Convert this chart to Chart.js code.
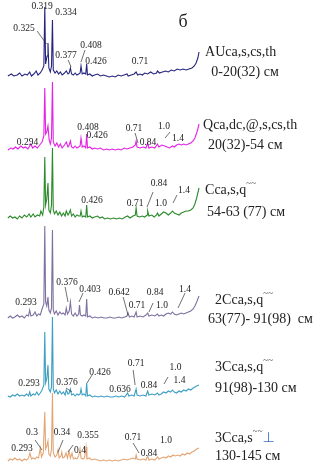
<!DOCTYPE html>
<html>
<head>
<meta charset="utf-8">
<script src="https://cdn.jsdelivr.net/npm/chart.js@4"></script>
<style>
  html, body { margin: 0; padding: 0; background: #fff; }
  #wrap { width: 325px; height: 471px; position: relative; }
</style>
</head>
<body>
<div id="wrap"><canvas id="xrdChart"></canvas></div>
<script>
/* ============================================================
   Stacked X-ray diffractograms, six soil horizons
   x = 2 theta (deg, reversed), y = intensity + stacking offset
   ============================================================ */

// horizons, top to bottom
const horizons = ["AU", "Q", "C", "2C", "3C", "3C-bottom"];
const offsets = [395, 321, 252, 153, 74, 10];
const lineColors = ['#25257f', '#e421e4', '#2b8a2b', '#7d719f', '#3d9fc2', '#e3a574'];

// [2theta, intensity]
const traceAU = [[34.2,0],[33.6,2],[33.2,0],[32.6,1],[32.2,3],[31.8,0],[31.3,2],[30.9,1],[30.5,4],[30.2,0],[29.8,2],[29.4,5],[29.1,1],[28.7,3],[28.4,6],[28.1,10],[27.94,69],[27.8,12],[27.55,20],[27.4,33],[27.25,8],[27.0,4],[26.8,10],[26.64,56],[26.5,6],[26.2,3],[25.9,5],[25.6,2],[25.3,4],[25.0,1],[24.6,3],[24.3,5],[24.0,2],[23.8,3],[23.6,8],[23.4,2],[23.1,1],[22.8,3],[22.5,1],[22.2,2],[21.95,3],[21.8,10],[21.6,2],[21.3,3],[21.0,2],[20.84,12],[20.7,1],[20.3,2],[19.9,0],[19.5,1],[19.0,2],[18.5,0],[18.0,1],[17.5,0],[17.0,-1],[16.5,0],[16.0,-1],[15.5,1],[15.0,0],[14.5,1],[14.0,2],[13.8,0],[13.3,1],[12.8,2],[12.46,4],[12.2,1],[11.8,2],[11.4,1],[11.0,3],[10.5,2],[10.0,4],[9.5,2],[9.0,3],[8.84,5],[8.5,3],[8.0,4],[7.5,5],[7.0,4],[6.5,6],[6.0,5],[5.5,7],[5.0,6],[4.5,7],[4.0,6],[3.5,7],[3.0,8],[2.6,10],[2.3,13],[2.0,18],[1.8,24]];
const traceQ = [[34.2,0],[33.7,2],[33.3,1],[32.9,3],[32.5,1],[32.0,4],[31.6,2],[31.2,3],[30.8,1],[30.3,6],[30.0,2],[29.6,4],[29.2,2],[28.8,5],[28.4,8],[28.1,14],[27.94,62],[27.8,16],[27.6,18],[27.4,24],[27.2,10],[27.0,6],[26.8,12],[26.64,68],[26.5,8],[26.2,4],[25.9,7],[25.6,3],[25.3,6],[25.0,2],[24.6,5],[24.3,8],[24.0,3],[23.8,5],[23.6,9],[23.4,3],[23.1,2],[22.8,4],[22.5,2],[22.2,3],[21.95,4],[21.8,12],[21.6,3],[21.3,4],[21.0,2],[20.84,16],[20.7,2],[20.3,3],[19.9,1],[19.5,2],[19.0,1],[18.5,2],[18.0,0],[17.5,1],[17.0,0],[16.5,1],[16.0,0],[15.5,1],[15.0,0],[14.5,2],[14.0,1],[13.5,2],[13.0,3],[12.6,5],[12.46,9],[12.3,3],[11.8,2],[11.3,3],[10.8,2],[10.5,7],[10.3,2],[9.8,3],[9.3,2],[8.84,6],[8.6,3],[8.1,5],[7.6,4],[7.2,3],[6.8,2],[6.3,4],[6.0,3],[5.6,5],[5.2,6],[4.8,5],[4.4,6],[4.0,5],[3.6,6],[3.2,7],[2.8,9],[2.5,12],[2.2,17],[2.0,21],[1.8,26]];
const traceC = [[34.2,1],[33.8,3],[33.4,1],[33.0,2],[32.6,0],[32.2,3],[31.8,1],[31.4,4],[31.0,2],[30.6,5],[30.3,2],[29.9,5],[29.6,2],[29.2,4],[28.8,3],[28.6,8],[28.3,4],[28.1,12],[27.94,62],[27.8,14],[27.6,20],[27.4,36],[27.25,9],[27.0,6],[26.8,14],[26.64,71],[26.5,9],[26.3,5],[26.0,8],[25.7,4],[25.4,7],[25.1,3],[24.8,6],[24.5,3],[24.3,8],[24.0,4],[23.8,6],[23.6,9],[23.4,3],[23.1,5],[22.8,2],[22.5,4],[22.2,3],[21.95,3],[21.8,8],[21.6,2],[21.3,3],[21.0,2],[20.84,14],[20.7,2],[20.3,3],[19.9,1],[19.5,2],[19.0,3],[18.6,1],[18.2,2],[17.8,0],[17.3,1],[16.8,0],[16.3,1],[15.8,0],[15.3,1],[14.8,0],[14.3,2],[13.9,3],[13.5,1],[13.0,3],[12.6,4],[12.46,11],[12.3,3],[11.9,2],[11.4,3],[11.0,2],[10.6,4],[10.5,8],[10.3,3],[9.8,4],[9.4,2],[9.0,4],[8.84,6],[8.6,3],[8.2,5],[7.8,7],[7.4,6],[7.0,4],[6.6,6],[6.3,8],[6.0,6],[5.6,5],[5.2,4],[4.8,6],[4.4,7],[4.0,8],[3.6,8],[3.2,9],[2.8,11],[2.5,15],[2.2,21],[2.0,26],[1.8,31]];
const trace2C = [[34.2,0],[33.8,2],[33.4,0],[33.0,1],[32.6,3],[32.2,1],[31.8,2],[31.4,0],[31.0,3],[30.7,2],[30.5,8],[30.3,2],[29.9,3],[29.6,6],[29.3,2],[29.0,4],[28.7,3],[28.4,9],[28.1,14],[27.94,92],[27.8,16],[27.6,12],[27.4,21],[27.25,8],[27.0,5],[26.8,10],[26.64,88],[26.5,8],[26.3,4],[26.0,7],[25.7,3],[25.4,6],[25.1,4],[24.8,5],[24.5,3],[24.3,10],[24.1,4],[23.8,7],[23.6,16],[23.4,4],[23.1,2],[22.8,5],[22.5,2],[22.2,4],[22.05,13],[21.9,3],[21.6,2],[21.3,3],[21.0,2],[20.84,19],[20.7,1],[20.3,2],[19.9,0],[19.4,1],[18.9,0],[18.4,1],[17.9,0],[17.4,0],[16.9,1],[16.4,0],[15.9,0],[15.4,1],[14.9,0],[14.4,1],[14.0,2],[13.83,5],[13.6,1],[13.2,2],[12.8,1],[12.46,6],[12.3,1],[11.8,2],[11.3,1],[10.8,3],[10.5,5],[10.3,2],[9.8,3],[9.3,2],[8.84,4],[8.6,2],[8.2,3],[7.8,2],[7.4,4],[7.0,5],[6.6,4],[6.31,6],[6.0,4],[5.6,3],[5.2,4],[4.8,5],[4.4,4],[4.0,5],[3.6,6],[3.2,7],[2.8,9],[2.5,12],[2.2,16],[2.0,19],[1.8,22]];
const trace3C = [[34.2,1],[33.8,0],[33.4,2],[33.0,1],[32.6,3],[32.2,1],[31.8,2],[31.4,1],[31.0,3],[30.7,1],[30.5,5],[30.3,1],[29.9,3],[29.6,2],[29.3,5],[29.0,2],[28.7,4],[28.4,7],[28.1,12],[27.94,65],[27.8,14],[27.6,18],[27.4,32],[27.25,8],[27.0,5],[26.8,10],[26.64,80],[26.5,8],[26.3,4],[26.0,7],[25.7,3],[25.4,6],[25.1,3],[24.8,5],[24.5,2],[24.3,7],[24.0,3],[23.8,4],[23.6,8],[23.4,2],[23.1,3],[22.8,1],[22.5,3],[22.2,2],[21.95,3],[21.8,8],[21.6,2],[21.3,3],[21.0,1],[20.84,14],[20.7,1],[20.3,2],[19.9,0],[19.4,1],[18.9,0],[18.4,1],[17.9,0],[17.4,1],[16.9,0],[16.4,0],[15.9,1],[15.4,0],[14.9,1],[14.4,0],[13.9,4],[13.7,1],[13.2,2],[12.8,1],[12.46,8],[12.3,2],[11.8,1],[11.3,2],[10.8,1],[10.5,6],[10.3,2],[9.8,3],[9.3,2],[8.84,4],[8.6,2],[8.2,3],[7.8,5],[7.4,4],[7.0,6],[6.6,5],[6.31,7],[6.0,5],[5.6,4],[5.2,6],[4.8,5],[4.4,7],[4.0,6],[3.6,8],[3.2,7],[2.8,9],[2.5,10],[2.2,11],[1.8,12]];
const trace3Cb = [[34.2,0],[33.8,2],[33.4,1],[33.0,3],[32.6,1],[32.2,2],[31.8,0],[31.4,2],[31.0,1],[30.7,3],[30.45,8],[30.2,2],[29.9,3],[29.6,2],[29.3,4],[29.0,3],[28.7,13],[28.5,4],[28.2,8],[27.94,49],[27.8,12],[27.6,15],[27.4,20],[27.25,7],[27.0,5],[26.8,12],[26.64,68],[26.5,8],[26.2,4],[25.9,6],[25.7,11],[25.5,3],[25.2,5],[25.06,9],[24.9,3],[24.6,4],[24.34,8],[24.1,3],[23.83,10],[23.6,3],[23.32,8],[23.1,2],[22.8,3],[22.5,2],[22.2,5],[21.97,12],[21.8,3],[21.5,2],[21.2,3],[20.95,14],[20.8,2],[20.4,3],[20.0,1],[19.5,2],[19.0,1],[18.5,0],[18.0,1],[17.5,0],[17.0,1],[16.5,0],[16.0,1],[15.5,0],[15.0,1],[14.5,2],[14.0,1],[13.5,2],[13.0,3],[12.6,2],[12.46,6],[12.3,2],[11.8,1],[11.3,2],[10.8,1],[10.5,5],[10.3,1],[9.8,2],[9.3,1],[8.84,4],[8.6,2],[8.2,3],[7.8,4],[7.4,3],[7.0,5],[6.6,4],[6.2,6],[5.8,5],[5.4,6],[5.0,5],[4.6,7],[4.2,6],[3.8,8],[3.4,7],[3.0,9],[2.6,10],[2.2,12],[1.8,13]];
const traces = [traceAU, traceQ, traceC, trace2C, trace3C, trace3Cb];

// d-spacing labels (nm): text, [2theta, y], optional leader line
const peakLabels = [
    ['0.319', 28.39, 465], ['0.334', 24.34, 459],
    ['0.325', 31.46, 443, [29.25, 440, 27.64, 427]],
    ['0.377', 24.34, 416, [23.98, 411, 23.49, 404]],
    ['0.408', 20.10, 426, [21.12, 421, 21.80, 409]],
    ['0.426', 19.25, 410], ['0.71', 11.80, 410],

    ['0.294', 30.86, 329], ['0.408', 20.61, 344], ['0.426', 19.08, 336],
    ['0.71', 12.81, 343, [12.64, 338, 12.14, 328]],
    ['0.84', 10.44, 329],
    ['1.0', 7.73, 345, [6.71, 339, 7.56, 333]],
    ['1.4', 5.36, 333],

    ['0.426', 19.93, 271], ['0.71', 12.64, 268],
    ['0.84', 8.58, 288, [9.59, 279, 10.61, 264]],
    ['1.0', 8.24, 268],
    ['1.4', 4.34, 281, [5.53, 276, 6.2, 268]],

    ['0.293', 31.12, 169],
    ['0.376', 24.17, 189, [24.5, 184, 24.0, 169]],
    ['0.403', 20.27, 182, [21.46, 178, 22.14, 169]],
    ['0.642', 15.34, 179, [14.66, 174, 13.83, 156]],
    ['0.71', 12.31, 166],
    ['0.84', 9.25, 179],
    ['1.0', 8.07, 166, [9.59, 168, 10.27, 159]],
    ['1.4', 4.17, 182, [4.17, 178, 5.36, 163]],

    ['0.293', 30.61, 88],
    ['0.376', 24.17, 89, [24.34, 83, 23.32, 79]],
    ['0.426', 18.58, 99, [19.93, 96, 20.78, 88]],
    ['0.636', 15.19, 82],
    ['0.71', 12.47, 108, [12.97, 101, 12.63, 86]],
    ['0.84', 10.27, 86],
    ['1.0', 5.78, 104],
    ['1.4', 5.1, 91, [7.05, 94, 7.73, 87]],

    ['0.3', 30.1, 39, [29.59, 31, 28.41, 21]],
    ['0.293', 31.8, 23],
    ['0.34', 25.02, 39, [24.85, 31, 25.69, 19]],
    ['0.355', 20.61, 36],
    ['0.4', 21.97, 21, [23.15, 26, 24.0, 19]],
    ['0.71', 12.98, 34, [12.98, 28, 11.97, 18]],
    ['0.84', 10.27, 18],
    ['1.0', 7.39, 31]
];

// horizon captions: parts [text, kind], left edge [2theta, y]
const captions = [
    [[['AUca,s,cs,th', 'n']], 0.78, 419],
    [[['0-20(32) см', 'n']], -0.27, 399],
    [[['Qca,dc,@,s,cs,th', 'n']], 1.12, 346],
    [[['20(32)-54 см', 'n']], 0.27, 326],
    [[['Cca,s,q', 'n'], ['~~', 'sup']], 0.78, 281],
    [[['54-63 (77) см', 'n']], 0.44, 259],
    [[['2Cca,s,q', 'n'], ['~~', 'sup']], -0.92, 171],
    [[['63(77)- 91(98)  см', 'n']], 0.27, 152],
    [[['3Cca,s,q', 'n'], ['~~', 'sup']], -0.92, 104],
    [[['91(98)-130 см', 'n']], -0.92, 83],
    [[['3Cca,s', 'n'], ['~~', 'sup'], ['⊥', 'blue']], -0.92, 33],
    [[['130-145 см', 'n']], -0.92, 15]
];

const textPlugin = {
    id: 'xrdText',
    afterDatasetsDraw(chart) {
        const { ctx, scales: { x, y } } = chart;
        ctx.save();

        // leader lines
        ctx.strokeStyle = '#333';
        ctx.lineWidth = 0.7;
        peakLabels.forEach(p => {
            if (!p[3]) return;
            const l = p[3];
            ctx.beginPath();
            ctx.moveTo(x.getPixelForValue(l[0]), y.getPixelForValue(l[1]));
            ctx.lineTo(x.getPixelForValue(l[2]), y.getPixelForValue(l[3]));
            ctx.stroke();
        });

        // d-spacing text
        ctx.fillStyle = '#222';
        ctx.font = '9.5px "Liberation Serif"';
        ctx.textAlign = 'center';
        ctx.textBaseline = 'middle';
        peakLabels.forEach(p => {
            ctx.fillText(p[0], x.getPixelForValue(p[1]), y.getPixelForValue(p[2]));
        });

        // panel letter
        ctx.font = '18px "Liberation Serif"';
        ctx.fillText('б', x.getPixelForValue(4.51), y.getPixelForValue(449));

        // horizon captions
        ctx.textAlign = 'left';
        captions.forEach(c => {
            let px = x.getPixelForValue(c[1]);
            const py = y.getPixelForValue(c[2]);
            c[0].forEach(([t, kind]) => {
                if (kind === 'sup') {
                    ctx.font = '9px "Liberation Serif"';
                    ctx.fillStyle = '#333';
                    ctx.fillText(t, px, py - 6);
                } else if (kind === 'blue') {
                    ctx.font = '14px "DejaVu Sans"';
                    ctx.fillStyle = '#3a6fc0';
                    ctx.fillText(t, px, py);
                } else {
                    ctx.font = '14px "Liberation Serif"';
                    ctx.fillStyle = '#222';
                    ctx.fillText(t, px, py);
                }
                px += ctx.measureText(t).width;
            });
        });
        ctx.restore();
    }
};

new Chart(document.getElementById('xrdChart'), {
    type: 'line',
    data: {
        datasets: traces.map((tr, i) => ({
            label: horizons[i],
            data: tr.map(([t, v]) => ({ x: t, y: v + offsets[i] })),
            borderColor: lineColors[i],
            borderWidth: 1.1,
            pointRadius: 0,
            tension: 0,
            fill: false
        }))
    },
    options: {
        responsive: true,
        maintainAspectRatio: false,
        animation: false,
        layout: { padding: 0 },
        plugins: { legend: { display: false }, tooltip: { enabled: false } },
        scales: {
            x: { type: 'linear', reverse: true, min: -19.55, max: 35.53, display: false },
            y: { type: 'linear', min: 0, max: 471, display: false }
        }
    },
    plugins: [textPlugin]
});
</script>
</body>
</html>
